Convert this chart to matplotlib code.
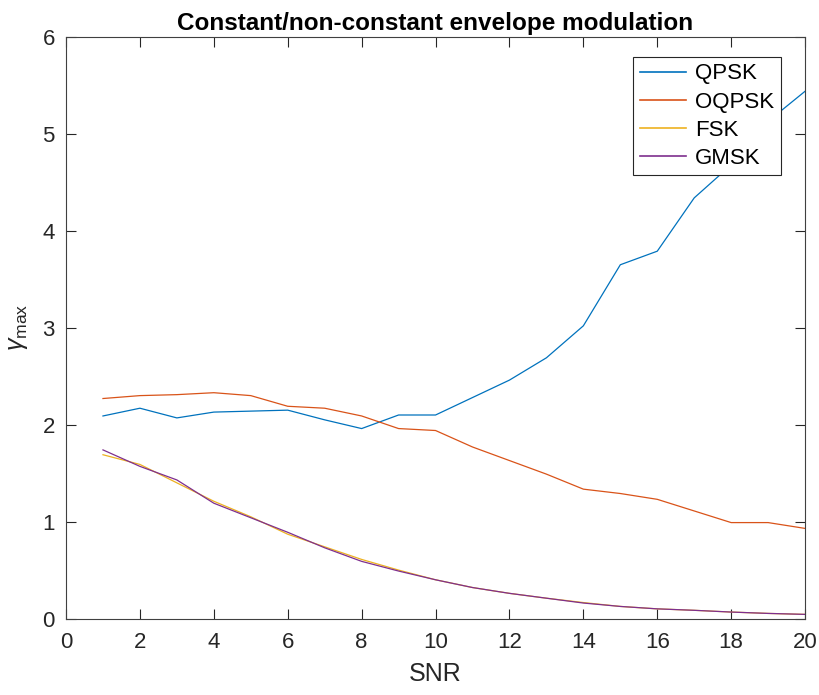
import numpy as np
import matplotlib
matplotlib.use("Agg")
import matplotlib.pyplot as plt

# SNR values and gamma_max per modulation
snr = np.arange(1, 21)
qpsk = [2.09, 2.17, 2.07, 2.13, 2.14, 2.15, 2.05, 1.96, 2.10, 2.10,
        2.28, 2.46, 2.69, 3.02, 3.65, 3.79, 4.34, 4.68, 5.13, 5.44]
oqpsk = [2.27, 2.30, 2.31, 2.33, 2.30, 2.19, 2.17, 2.09, 1.96, 1.94,
         1.77, 1.63, 1.49, 1.335, 1.29, 1.23, 1.11, 0.99, 0.99, 0.93]
fsk = [1.69, 1.59, 1.40, 1.21, 1.05, 0.87, 0.74, 0.61, 0.50, 0.40,
       0.32, 0.26, 0.21, 0.165, 0.125, 0.10, 0.085, 0.067, 0.053, 0.043]
gmsk = [1.74, 1.57, 1.43, 1.19, 1.04, 0.89, 0.73, 0.59, 0.49, 0.40,
        0.32, 0.26, 0.21, 0.16, 0.125, 0.10, 0.085, 0.067, 0.053, 0.043]
labels = ["QPSK", "OQPSK", "FSK", "GMSK"]
colors = ["#0072BD", "#D95319", "#EDB120", "#7E2F8E"]

plt.rcParams["font.family"] = ["Liberation Sans", "DejaVu Sans"]
plt.rcParams["mathtext.fontset"] = "custom"
plt.rcParams["mathtext.rm"] = "Liberation Sans"
plt.rcParams["mathtext.it"] = "Liberation Sans:italic"

fig = plt.figure(figsize=(8.19, 6.95), dpi=100)
ax = fig.add_axes([0.0806, 0.110, 0.9024, 0.8368])

for y, lab, c in zip([qpsk, oqpsk, fsk, gmsk], labels, colors):
    ax.plot(snr, y, color=c, lw=0.9, label=lab)

ax.set_xlim(0, 20)
ax.set_ylim(0, 6)
ax.set_xticks(np.arange(0, 21, 2))
ax.set_yticks(np.arange(0, 7, 1))
ax.tick_params(direction="in", top=True, right=True, labelsize=16,
               colors="#262626", length=7, width=0.8)
ax.tick_params(axis="x", pad=10)
ax.tick_params(axis="y", pad=8)
for s in ax.spines.values():
    s.set_color("#404040")
    s.set_linewidth(0.8)

ax.set_xlabel("SNR", fontsize=18, color="#262626", labelpad=6)
ax.set_ylabel(r"$\gamma_{\rm max}$", fontsize=18, color="#262626", labelpad=9)
ax.set_title("Constant/non-constant envelope modulation", fontsize=17.5,
             fontweight="bold", pad=5)

leg = ax.legend(loc="upper right", bbox_to_anchor=(0.9675, 0.966), fontsize=16,
                fancybox=False, framealpha=1, edgecolor="#262626",
                handlelength=2.1, borderpad=0.3, labelspacing=0.32,
                handletextpad=0.4, borderaxespad=0)
leg.get_frame().set_linewidth(0.8)
for h in leg.get_lines():
    h.set_linewidth(1.2)

fig.savefig("out.png", dpi=100)
